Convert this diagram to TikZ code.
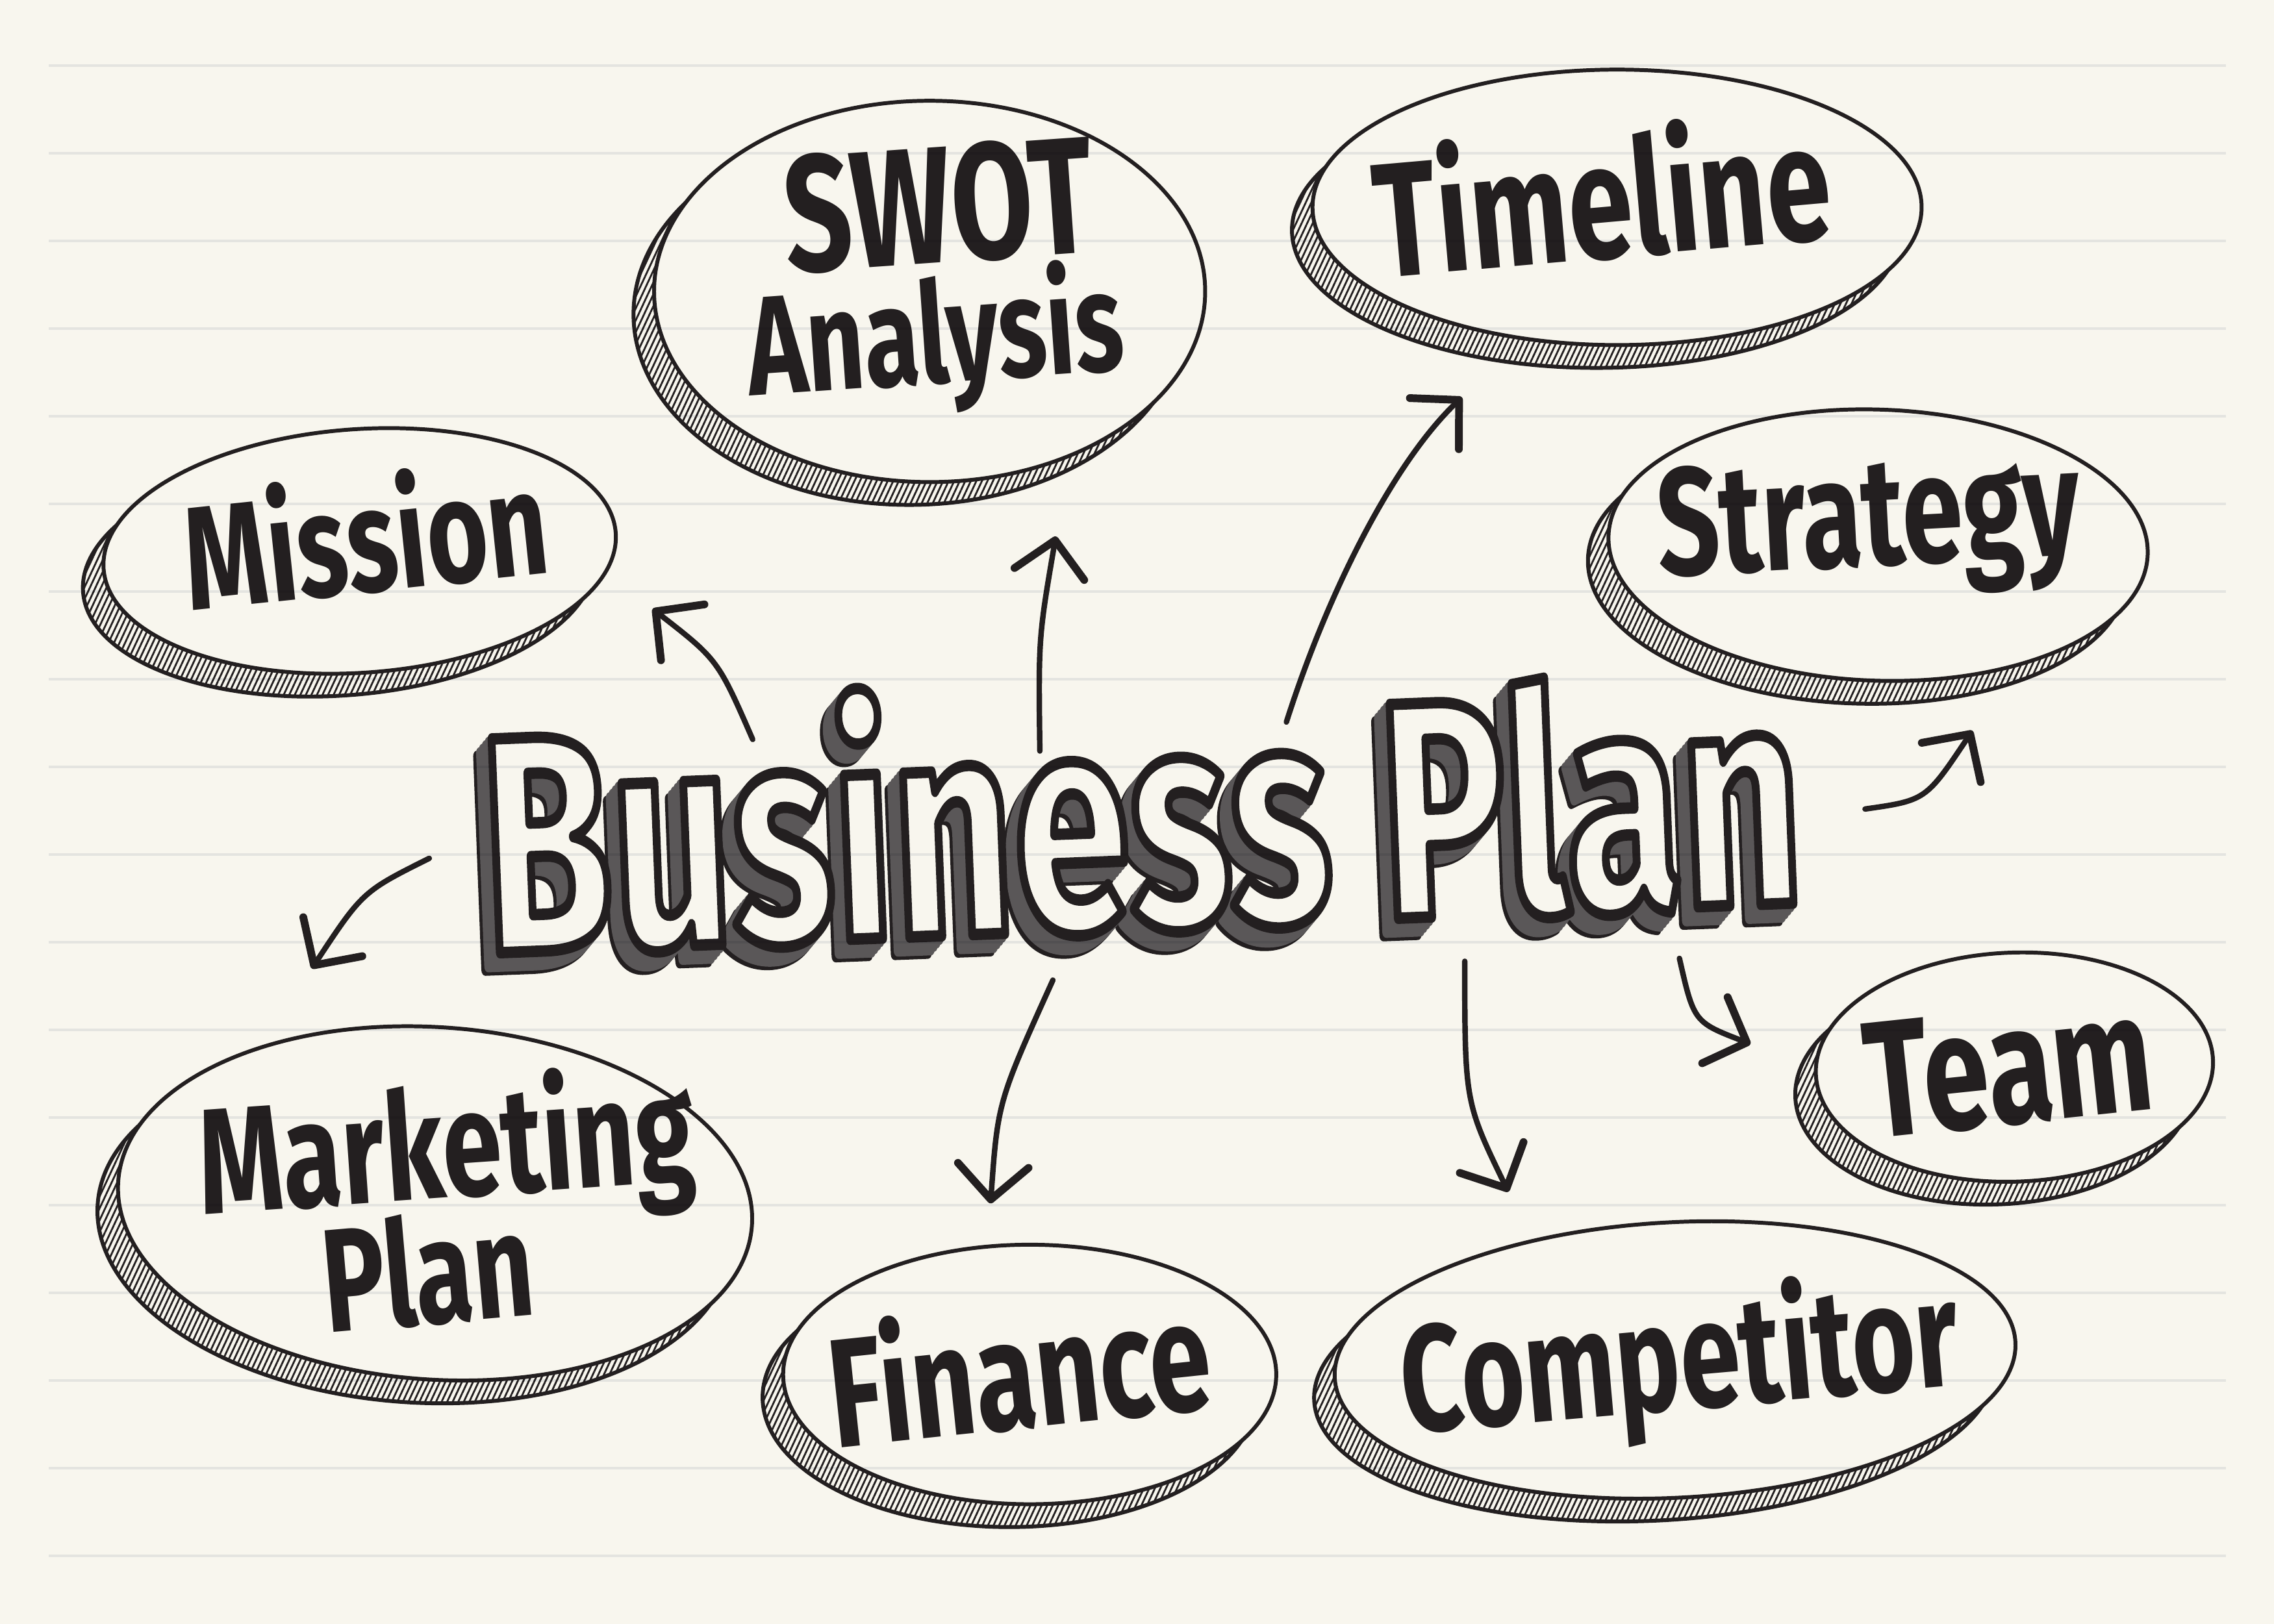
\documentclass[tikz,border=0pt]{standalone}
\usepackage{fontspec}
\setmainfont{Fira Sans}
\newfontfamily\handfont{Fira Sans}
\usetikzlibrary{arrows.meta, shapes.geometric, shadows, patterns.meta, calc}
\definecolor{paper}{HTML}{F8F6EE}
\definecolor{ruleline}{HTML}{EBEDF0}
\definecolor{ink}{HTML}{231F20}
\definecolor{inkshade}{HTML}{5A5758}
\newlength\spx
\setlength\spx{0.22328mm}
% stroked letters: #1 = stroke width, #2 = stroke colour (rgb), #3 = text
\newcommand\strokedtext[3]{\special{pdf:literal direct 2 Tr #1 w 1 j 1 J #2 RG}#3\special{pdf:literal direct 0 Tr}}

\tikzset{
  blob/.style={ellipse, draw=ink, line width=1.7pt, fill=paper, inner sep=0pt,
    general shadow={shadow xshift=-9pt, shadow yshift=-10pt, fill=paper},
    general shadow={shadow xshift=-9pt, shadow yshift=-10pt, draw=ink,
      line width=1.7pt, pattern={Lines[angle=65, distance=2.2pt, line width=0.8pt]},
      pattern color=ink}},
  word/.style={font=\handfont\bfseries\fontsize{#1}{#1}\selectfont, text=ink,
    anchor=base, inner sep=0pt, yscale=1.4},
  bpword/.style={font=\handfont\bfseries\fontsize{92}{92}\selectfont,
    anchor=base, inner sep=0pt, rotate=2.2, yscale=1.47},
  arrow/.style={draw=ink, line width=2.4pt, line cap=round,
    -{Straight Barb[length=15pt, width=31pt, line width=3.4pt, round]}},
}

\begin{document}
\begin{tikzpicture}[x=\spx, y=-\spx]
  \useasboundingbox (0,0) rectangle (1568,1120);
  \fill[paper] (0,0) rectangle (1568,1120);

  %% Bubbles
  \node[blob, minimum width=354\spx, minimum height=168\spx, rotate=4] (mission) at (248,380) {};
  \node[blob, minimum width=380\spx, minimum height=263\spx] (swot) at (641,201) {};
  \node[blob, minimum width=420\spx, minimum height=190\spx] (timeline) at (1115,143) {};
  \node[blob, minimum width=372\spx, minimum height=187\spx, rotate=-2] (strategy) at (1295,376) {};
  \node[blob, minimum width=274\spx, minimum height=158\spx, rotate=2] (team) at (1389,736) {};
  \node[blob, minimum width=470\spx, minimum height=190\spx, rotate=3] (competitor) at (1155,938) {};
  \node[blob, minimum width=340\spx, minimum height=179\spx] (finance) at (710,948) {};
  \node[blob, minimum width=438\spx, minimum height=243\spx, rotate=-4] (marketing) at (300,830) {};

  %% Words in the bubbles
  \node[rotate=6, word=46] (mission-txt) at (256,408) {Mission};
  \node[rotate=4, word=52] (swot-txt) at (650,181) {SWOT};
  \node[rotate=4, word=44] (analysis-txt) at (647,264) {Analysis};
  \node[rotate=5, word=51] (timeline-txt) at (1108,178) {Timeline};
  \node[rotate=3, word=48] (strategy-txt) at (1290,390) {Strategy};
  \node[rotate=6, word=52] (team-txt) at (1389,775) {Team};
  \node[rotate=5, word=47.5] (competitor-txt) at (1161,972) {Competitor};
  \node[rotate=6, word=48.5] (finance-txt) at (707,985) {Finance};
  \node[rotate=4, word=47] (marketing-txt) at (310,826) {Marketing};
  \node[rotate=5, word=46] (plan-txt) at (298,913) {Plan};

  %% Business Plan: outlined, extruded letters
  \coordinate (bpc) at (790,640);
  \node[bpword, text=inkshade] (bp-back) at ($(bpc)+(-10,12)$)
    {\strokedtext{3.4}{0.137 0.122 0.125}{Business Plan}};
  \foreach \k in {8,6,4,2}
    \node[bpword, text=inkshade] (bp-side-\k) at ($(bpc)+(-\k,1.2*\k)$)
      {\strokedtext{3.4}{0.353 0.341 0.345}{Business Plan}};
  \node[bpword, text=paper] (bp) at (bpc)
    {\strokedtext{3.4}{0.137 0.122 0.125}{Business Plan}};

  %% Arrows (free ends)
  \coordinate (to-mission) at (519,510);    \coordinate (at-mission) at (450,420);
  \coordinate (to-swot) at (717,518);       \coordinate (at-swot) at (728,370);
  \coordinate (to-timeline) at (887,498);   \coordinate (at-timeline) at (1008,274);
  \coordinate (to-strategy) at (1286,558);  \coordinate (at-strategy) at (1360,504);
  \coordinate (to-team) at (1158,661);      \coordinate (at-team) at (1207,720);
  \coordinate (to-competitor) at (1010,663);\coordinate (at-competitor) at (1040,822);
  \coordinate (to-finance) at (726,676);    \coordinate (at-finance) at (683,830);
  \coordinate (to-marketing) at (296,592);  \coordinate (at-marketing) at (215,668);

  \draw[arrow] (to-mission) .. controls (495,455) .. (at-mission);
  \draw[arrow] (to-swot) .. controls (716,440) .. (at-swot);
  \draw[arrow] (to-timeline) .. controls (915,410) and (960,320) .. (at-timeline);
  \draw[arrow] (to-strategy) .. controls (1328,552) .. (at-strategy);
  \draw[arrow] (to-team) .. controls (1168,705) .. (at-team);
  \draw[arrow] (to-competitor) .. controls (1010,760) .. (at-competitor);
  \draw[arrow] (to-finance) .. controls (688,760) .. (at-finance);
  \draw[arrow] (to-marketing) .. controls (250,615) .. (at-marketing);

  %% Ruled paper lines, multiplied over the drawing
  \begin{scope}[blend mode=multiply]
    \foreach \k in {0,...,17}
      \draw[ruleline, line width=1.2pt] (33.6, 45.2+60.46*\k) -- (1535, 45.2+60.46*\k);
  \end{scope}
\end{tikzpicture}
\end{document}
